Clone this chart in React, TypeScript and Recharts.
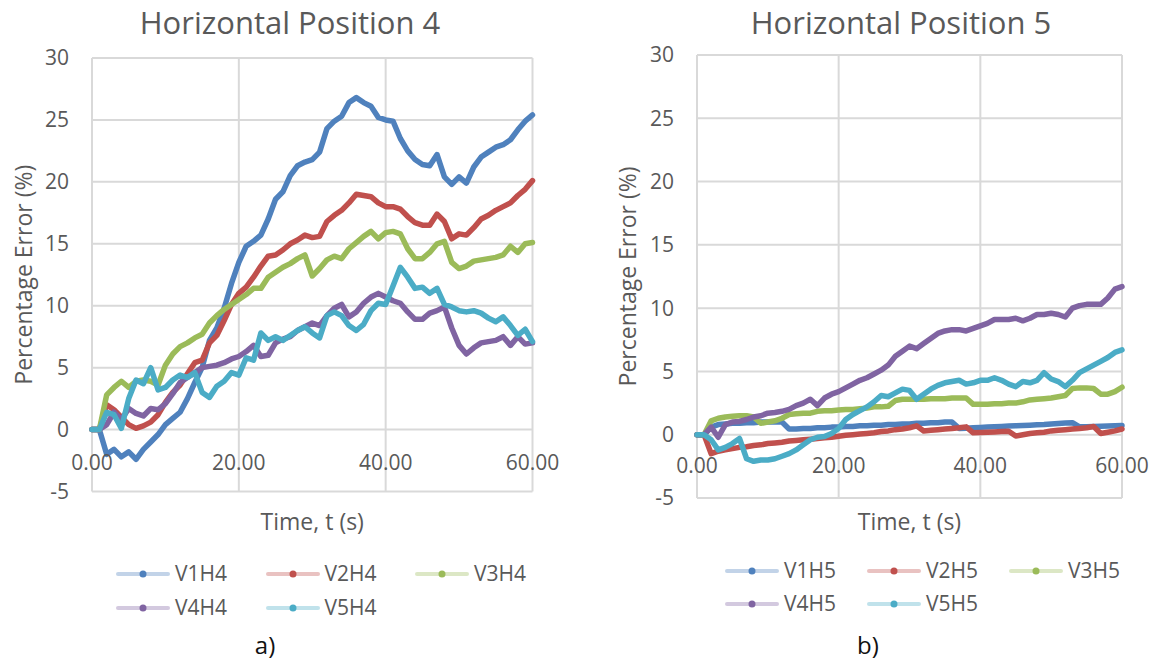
import React from 'react';
import { LineChart, Line, XAxis, YAxis, CartesianGrid } from 'recharts';

// time axis, one reading per second
const T = [
  0, 1, 2, 3, 4, 5, 6, 7, 8, 9, 10, 11, 12, 13, 14, 15, 16, 17, 18, 19, 20,
  21, 22, 23, 24, 25, 26, 27, 28, 29, 30, 31, 32, 33, 34, 35, 36, 37, 38, 39, 40,
  41, 42, 43, 44, 45, 46, 47, 48, 49, 50, 51, 52, 53, 54, 55, 56, 57, 58, 59, 60,
];

const X_TICKS = [0, 20, 40, 60];
const Y_TICKS = [-5, 0, 5, 10, 15, 20, 25, 30];

// Horizontal Position 4
const V1H4 = [0, 0, -2.0, -1.6, -2.2, -1.8, -2.4, -1.6, -1.0, -0.4, 0.4, 0.9, 1.4, 2.5, 3.8, 5.0, 7.2, 8.2, 9.8, 11.8, 13.5, 14.8, 15.2, 15.7, 17.0, 18.6, 19.2, 20.5, 21.3, 21.6, 21.8, 22.4, 24.3, 24.9, 25.3, 26.4, 26.8, 26.4, 26.1, 25.2, 25.0, 24.9, 23.5, 22.5, 21.8, 21.4, 21.3, 22.2, 20.4, 19.8, 20.4, 19.9, 21.2, 22.0, 22.4, 22.8, 23.0, 23.4, 24.2, 24.9, 25.4];
const V2H4 = [0, 0, 2.0, 1.6, 1.0, 0.4, 0.1, 0.3, 0.6, 1.2, 2.2, 3.0, 3.6, 4.5, 5.4, 5.6, 7.0, 7.6, 8.8, 10.1, 11.0, 11.5, 12.3, 13.2, 14.0, 14.1, 14.5, 15.0, 15.3, 15.7, 15.5, 15.6, 16.8, 17.3, 17.7, 18.3, 19.0, 18.9, 18.8, 18.3, 18.0, 18.0, 17.8, 17.2, 16.7, 16.5, 16.5, 17.4, 16.8, 15.4, 15.8, 15.7, 16.3, 17.0, 17.3, 17.7, 18.0, 18.3, 18.9, 19.4, 20.1];
const V3H4 = [0, 0, 2.8, 3.4, 3.9, 3.4, 3.9, 4.0, 3.9, 3.6, 5.2, 6.1, 6.7, 7.0, 7.4, 7.7, 8.6, 9.2, 9.7, 10.1, 10.5, 10.9, 11.4, 11.4, 12.3, 12.7, 13.1, 13.4, 13.8, 14.1, 12.4, 13.0, 13.7, 14.0, 13.8, 14.6, 15.1, 15.6, 16.0, 15.4, 15.9, 16.0, 15.8, 14.6, 13.8, 13.8, 14.3, 15.0, 15.2, 13.5, 13.0, 13.2, 13.6, 13.7, 13.8, 13.9, 14.1, 14.8, 14.3, 15.0, 15.1];
const V4H4 = [0, 0, 0.4, 1.4, 0.8, 1.7, 1.3, 1.1, 1.7, 1.6, 2.1, 2.9, 3.8, 4.2, 4.6, 5.0, 5.1, 5.2, 5.4, 5.7, 5.9, 6.3, 6.8, 5.9, 6.0, 7.0, 7.3, 7.5, 8.0, 8.3, 8.6, 8.4, 9.2, 9.8, 10.1, 9.1, 9.5, 10.2, 10.7, 11.0, 10.7, 10.4, 10.2, 9.5, 8.9, 8.9, 9.4, 9.6, 9.9, 8.2, 6.8, 6.1, 6.6, 7.0, 7.1, 7.2, 7.5, 6.8, 7.5, 6.9, 7.0];
const V5H4 = [0, 0, 1.4, 1.2, 0.1, 2.5, 4.0, 3.7, 5.0, 3.2, 3.4, 4.0, 4.4, 4.2, 4.6, 3.0, 2.6, 3.5, 3.9, 4.6, 4.4, 5.8, 5.6, 7.8, 7.2, 7.5, 7.2, 7.6, 8.0, 8.3, 7.8, 7.4, 9.2, 9.5, 9.2, 8.4, 8.0, 8.5, 9.6, 10.2, 10.1, 11.6, 13.1, 12.3, 11.4, 11.5, 11.0, 11.4, 10.1, 9.9, 9.6, 9.5, 9.6, 9.4, 9.0, 8.7, 9.1, 8.4, 7.6, 8.1, 7.1];

// Horizontal Position 5
const V1H5 = [0, 0, 0.6, 0.8, 0.85, 0.9, 0.9, 0.95, 0.95, 1.0, 1.0, 1.0, 1.0, 0.45, 0.45, 0.5, 0.5, 0.55, 0.55, 0.6, 0.6, 0.65, 0.65, 0.7, 0.7, 0.75, 0.75, 0.8, 0.8, 0.85, 0.85, 0.9, 0.9, 0.95, 0.95, 1.0, 1.0, 0.5, 0.52, 0.55, 0.58, 0.6, 0.62, 0.65, 0.68, 0.7, 0.73, 0.75, 0.78, 0.8, 0.85, 0.88, 0.92, 0.95, 0.62, 0.63, 0.65, 0.67, 0.69, 0.71, 0.73];
const V2H5 = [0, 0, -1.5, -1.3, -1.2, -1.1, -1.0, -0.95, -0.85, -0.8, -0.7, -0.65, -0.6, -0.5, -0.45, -0.4, -0.35, -0.3, -0.25, -0.2, -0.12, -0.05, 0.0, 0.05, 0.1, 0.15, 0.25, 0.3, 0.4, 0.45, 0.55, 0.7, 0.3, 0.35, 0.4, 0.45, 0.5, 0.55, 0.62, 0.15, 0.17, 0.2, 0.22, 0.25, 0.27, -0.1, 0.0, 0.1, 0.15, 0.2, 0.3, 0.35, 0.4, 0.45, 0.5, 0.55, 0.65, 0.1, 0.2, 0.3, 0.45];
const V3H5 = [0, 0, 1.1, 1.3, 1.4, 1.45, 1.5, 1.5, 1.4, 0.9, 1.0, 1.1, 1.3, 1.6, 1.65, 1.7, 1.7, 1.85, 1.9, 1.9, 1.95, 2.0, 2.0, 2.05, 2.1, 2.2, 2.2, 2.25, 2.7, 2.8, 2.8, 2.8, 2.8, 2.85, 2.85, 2.85, 2.9, 2.9, 2.9, 2.4, 2.4, 2.4, 2.45, 2.45, 2.5, 2.5, 2.6, 2.75, 2.8, 2.85, 2.9, 3.0, 3.1, 3.65, 3.7, 3.7, 3.65, 3.2, 3.2, 3.4, 3.75];
const V4H5 = [0, 0, 0.6, -0.2, 0.8, 1.0, 1.05, 1.2, 1.4, 1.5, 1.7, 1.75, 1.85, 2.0, 2.3, 2.5, 2.8, 2.3, 2.9, 3.2, 3.4, 3.7, 4.0, 4.3, 4.5, 4.8, 5.1, 5.5, 6.2, 6.6, 7.0, 6.8, 7.2, 7.6, 8.0, 8.2, 8.3, 8.3, 8.2, 8.4, 8.6, 8.8, 9.1, 9.1, 9.1, 9.2, 9.0, 9.2, 9.5, 9.5, 9.6, 9.5, 9.3, 10.0, 10.2, 10.3, 10.3, 10.3, 10.8, 11.5, 11.7];
const V5H5 = [0, 0, -0.4, -1.2, -1.0, -0.7, -0.3, -1.9, -2.1, -2.0, -2.0, -1.9, -1.7, -1.5, -1.2, -0.8, -0.4, -0.2, -0.15, 0.1, 0.5, 1.2, 1.6, 1.9, 2.2, 2.6, 3.1, 3.0, 3.3, 3.6, 3.5, 2.8, 3.2, 3.6, 3.9, 4.1, 4.2, 4.3, 4.0, 4.1, 4.3, 4.3, 4.5, 4.3, 4.0, 3.8, 4.2, 4.1, 4.3, 4.9, 4.4, 4.2, 3.8, 4.3, 4.9, 5.2, 5.5, 5.8, 6.1, 6.5, 6.7];

const NAMES_4 = ['V1H4', 'V2H4', 'V3H4', 'V4H4', 'V5H4'];
const NAMES_5 = ['V1H5', 'V2H5', 'V3H5', 'V4H5', 'V5H5'];

// office 2007 palette
const COLORS = ['#4F81BD', '#C0504D', '#9BBB59', '#8064A2', '#4BACC6'];
const TEXT = '#595959';
const GRID = '#d9d9d9';
const FONT = '"Open Sans", sans-serif';

const buildRows = (names: string[], series: number[][]) =>
  T.map((t, i) => {
    const row: any = { t };
    names.forEach((n, k) => (row[n] = series[k][i]));
    return row;
  });

// x labels sit next to the zero line, like Excel does when the axis crosses at 0
const XTick = ({ x, y, payload, lift }: any) => (
  <text x={x} y={y - lift} dy="0.36em" textAnchor="middle" fill={TEXT} fontSize={21} fontFamily={FONT}>
    {Number(payload.value).toFixed(2)}
  </text>
);

const Panel = ({ left, width, top, right, yAxisWidth, xAxisHeight, lift, yLabelOffset, names, series }: any) => {
  const rows = buildRows(names, series);
  return (
    <div style={{ position: 'absolute', left, top: 0 }}>
      <LineChart width={width} height={560} data={rows} margin={{ top, right, bottom: 0, left: 0 }}>
        <CartesianGrid stroke={GRID} strokeWidth={2} />
        <XAxis
          type="number"
          dataKey="t"
          domain={[0, 60]}
          ticks={X_TICKS}
          height={xAxisHeight}
          axisLine={false}
          tickLine={false}
          tickSize={0}
          tickMargin={0}
          tick={<XTick lift={lift} />}
          label={{ value: 'Time, t (s)', position: 'insideBottom', offset: 30, style: { fill: TEXT, fontSize: 23, fontFamily: FONT } }}
        />
        <YAxis
          type="number"
          domain={[-5, 30]}
          ticks={Y_TICKS}
          width={yAxisWidth}
          axisLine={false}
          tickLine={false}
          tickSize={0}
          tickMargin={23}
          tick={{ fill: TEXT, fontSize: 21, fontFamily: FONT }}
          label={{
            value: 'Percentage Error (%)',
            angle: -90,
            position: 'insideLeft',
            offset: yLabelOffset,
            style: { fill: TEXT, fontSize: 23, fontFamily: FONT, textAnchor: 'middle' },
          }}
        />
        {names.map((n: string, k: number) => (
          <Line
            key={n}
            type="linear"
            dataKey={n}
            stroke={COLORS[k]}
            strokeWidth={5.5}
            strokeLinejoin="round"
            strokeLinecap="round"
            dot={false}
            isAnimationActive={false}
          />
        ))}
      </LineChart>
    </div>
  );
};

const Title = ({ cx, text }: any) => (
  <div style={{ position: 'absolute', left: cx, top: 23 - 0.53 * 31, transform: 'translateX(-50%)', fontSize: 31, lineHeight: '31px', color: TEXT, whiteSpace: 'nowrap' }}>
    {text}
  </div>
);

const LegendItem = ({ x, cy, name, color }: any) => (
  <>
    <svg width={54} height={12} style={{ position: 'absolute', left: x, top: cy - 6 }}>
      <line x1={2} y1={6} x2={52} y2={6} stroke={color} strokeOpacity={0.35} strokeWidth={4} strokeLinecap="round" />
      <circle cx={27} cy={6} r={3.5} fill={color} />
    </svg>
    <div style={{ position: 'absolute', left: x + 59, top: cy - 0.53 * 21, fontSize: 21, lineHeight: '21px', color: TEXT, whiteSpace: 'nowrap' }}>
      {name}
    </div>
  </>
);

const Legend = ({ cols, rows, names }: any) => (
  <>
    {names.map((n: string, k: number) => (
      <LegendItem key={n} x={cols[k % 3]} cy={rows[Math.floor(k / 3)]} name={n} color={COLORS[k]} />
    ))}
  </>
);

const Caption = ({ cx, text }: any) => (
  <div style={{ position: 'absolute', left: cx, top: 647 - 0.58 * 24, transform: 'translateX(-50%)', fontSize: 24, lineHeight: '24px', color: '#111' }}>
    {text}
  </div>
);

export default function App() {
  return (
    <div style={{ position: 'absolute', left: 0, top: 0, width: 1157, height: 662, background: '#fff', fontFamily: FONT, overflow: 'hidden' }}>
      <Panel
        left={0}
        width={580}
        top={58}
        right={47.5}
        yAxisWidth={92}
        xAxisHeight={68.5}
        lift={29.5}
        yLabelOffset={24}
        names={NAMES_4}
        series={[V1H4, V2H4, V3H4, V4H4, V5H4]}
      />
      <Panel
        left={580}
        width={577}
        top={55}
        right={35}
        yAxisWidth={117}
        xAxisHeight={62}
        lift={33}
        yLabelOffset={48}
        names={NAMES_5}
        series={[V1H5, V2H5, V3H5, V4H5, V5H5]}
      />
      <Title cx={290} text="Horizontal Position 4" />
      <Title cx={901} text="Horizontal Position 5" />
      <Legend cols={[116, 265.5, 415]} rows={[574, 608]} names={NAMES_4} />
      <Legend cols={[725, 867, 1009]} rows={[571, 604]} names={NAMES_5} />
      <Caption cx={265} text="a)" />
      <Caption cx={868} text="b)" />
    </div>
  );
}
